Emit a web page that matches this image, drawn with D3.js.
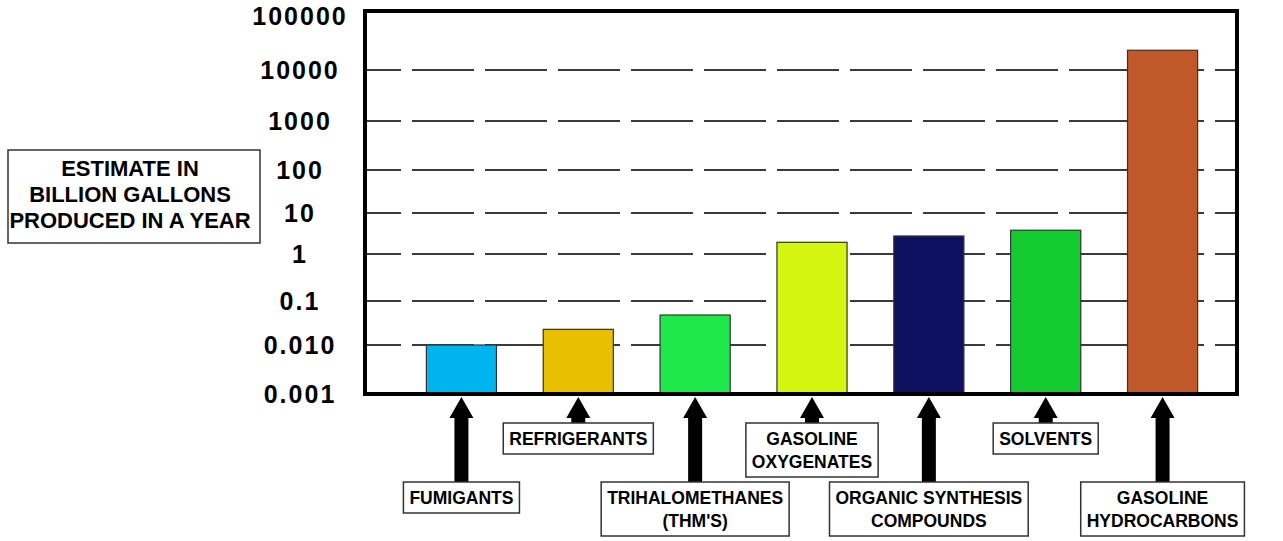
<!DOCTYPE html>
<html><head><meta charset="utf-8">
<script src="https://cdn.jsdelivr.net/npm/d3@7"></script>
<style>body{margin:0;background:#fff}svg{display:block}</style>
</head><body><svg id="c" width="1283" height="541"></svg>
<script>
// ---- data ----
const categories = ["FUMIGANTS", "REFRIGERANTS", "TRIHALOMETHANES\n(THM'S)", "GASOLINE\nOXYGENATES", "ORGANIC SYNTHESIS\nCOMPOUNDS", "SOLVENTS", "GASOLINE\nHYDROCARBONS"];
const values = [0.01, 0.0227, 0.048, 1.93, 2.75, 3.8, 21600];
const colors = ["#00b4f0", "#e9c000", "#1ee84a", "#d4f510", "#0e1060", "#14cc30", "#c0582a"];
const tickValues = [0.001, 0.01, 0.1, 1, 10, 100, 1000, 10000, 100000];
const tickLabels = ["0.001", "0.010", "0.1", "1", "10", "100", "1000", "10000", "100000"];
const yTitle = ["ESTIMATE IN", "BILLION GALLONS", "PRODUCED IN A YEAR"];

// ---- layout ----
const FONT = "'Liberation Sans', Arial, sans-serif";
const plot = {l: 365, t: 11, r: 1237, b: 394};
const yStops = [394, 345, 301, 254, 213, 170, 121, 70, 11]; // hand-drawn uneven spacing of the decades
const svg = d3.select("#c");

const y = d3.scaleLog().domain(tickValues).range(yStops);
const x = d3.scaleBand().domain(d3.range(categories.length))
  .range([403, 1221]).paddingInner(0.4).paddingOuter(0.2);

// gridlines
svg.append("g").selectAll("line").data(tickValues.slice(1, -1)).join("line")
  .attr("x1", plot.l).attr("x2", plot.r)
  .attr("y1", d => y(d)).attr("y2", d => y(d))
  .attr("stroke", "#3a3a3a").attr("stroke-width", 2)
  .attr("stroke-dasharray", "62 11").attr("stroke-dashoffset", 26);

// bars
svg.append("g").selectAll("rect").data(values).join("rect")
  .attr("x", (d, i) => x(i)).attr("width", x.bandwidth())
  .attr("y", d => y(d)).attr("height", d => y(0.001) - y(d))
  .attr("fill", (d, i) => colors[i]).attr("stroke", "#333").attr("stroke-width", 1.2);

// frame
svg.append("rect").attr("x", plot.l).attr("y", plot.t)
  .attr("width", plot.r - plot.l).attr("height", plot.b - plot.t)
  .attr("fill", "none").attr("stroke", "#000").attr("stroke-width", 4);

// y tick labels
svg.append("g").selectAll("text").data(tickValues).join("text")
  .attr("x", 300).attr("y", d => Math.max(y(d), 16))
  .attr("dy", "0.36em").attr("text-anchor", "middle")
  .style("font-family", FONT).style("font-weight", "bold")
  .style("font-size", "25px").style("letter-spacing", "2px")
  .text((d, i) => tickLabels[i]);

// y title box
const tb = svg.append("g");
tb.append("rect").attr("x", 8).attr("y", 150).attr("width", 252).attr("height", 93)
  .attr("fill", "#fff").attr("stroke", "#333").attr("stroke-width", 1.5);
tb.selectAll("text").data(yTitle).join("text")
  .attr("x", 130).attr("y", (d, i) => 168 + i * 26).attr("dy", "0.36em")
  .attr("text-anchor", "middle")
  .style("font-family", FONT).style("font-weight", "bold").style("font-size", "22px")
  .text(d => d);

// arrows + category label boxes
const lineH = 23, pad = 4;
categories.forEach((c, i) => {
  const lines = c.split("\n");
  const cx = x(i) + x.bandwidth() / 2;
  const top = i % 2 === 0 ? 482 : 423;
  const h = pad * 2 + lineH * lines.length;
  const g = svg.append("g");
  // arrow
  const tip = 397, headB = 418, hw = 12, sw = 7;
  g.append("path")
    .attr("d", `M${cx},${tip} L${cx + hw},${headB} L${cx + sw},${headB} L${cx + sw},${top} L${cx - sw},${top} L${cx - sw},${headB} L${cx - hw},${headB} Z`)
    .attr("fill", "#000");
  const rect = g.append("rect").attr("fill", "#fff").attr("stroke", "#333").attr("stroke-width", 1.5);
  const texts = g.selectAll("text").data(lines).join("text")
    .attr("x", cx).attr("y", (d, k) => top + pad + lineH / 2 + k * lineH)
    .attr("dy", "0.36em").attr("text-anchor", "middle")
    .style("font-family", FONT).style("font-weight", "bold").style("font-size", "17.5px")
    .text(d => d);
  let w = 0;
  texts.each(function() { w = Math.max(w, this.getComputedTextLength()); });
  w += 12;
  rect.attr("x", cx - w / 2).attr("y", top).attr("width", w).attr("height", h);
});
</script></body></html>
